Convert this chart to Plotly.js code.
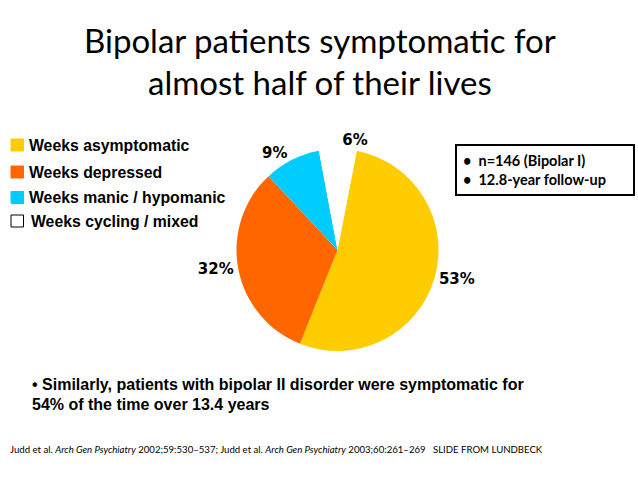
<!DOCTYPE html>
<html>
<head>
<meta charset="utf-8">
<script src="https://cdn.plot.ly/plotly-3.0.1.min.js"></script>
<style>html,body{margin:0;padding:0;background:#fff;}#chart{width:638px;height:479px;}</style>
</head>
<body>
<div id="chart"></div>
<script>
const categories = ["Weeks asymptomatic", "Weeks depressed", "Weeks manic / hypomanic", "Weeks cycling / mixed"];
const values = [53, 32, 9, 6];
const colors = ["#FFCC00", "#FF6600", "#00CCFF", "#FFFFFF"];
const legendBorders = ["#FFCC00", "#FF6600", "#00CCFF", "#000000"];
const titleLines = ["Bipolar patients symptomatic for", "almost half of their lives"];
const boxLines = ["n=146 (Bipolar I)", "12.8-year follow-up"];
const noteLines = ["• Similarly, patients with bipolar II disorder were symptomatic for", "54% of the time over 13.4 years"];
const footer = "Judd et al. <i>Arch Gen Psychiatry</i> 2002;59:530–537; Judd et al. <i>Arch Gen Psychiatry</i> 2003;60:261–269   SLIDE FROM LUNDBECK";

const W = 638, H = 479;
const px = x => x / W, py = y => 1 - y / H;

const cx = 337.5, cy = 250, r = 101;

const trace = {
  type: "pie",
  values: values,
  labels: categories,
  sort: false,
  direction: "clockwise",
  rotation: 11,
  marker: {colors: colors, line: {width: 0}},
  texttemplate: "%{value}%",
  textposition: "outside",
  textfont: {family: "DejaVu Sans", size: 15, color: "#000", weight: "bold"},
  showlegend: false,
  hoverinfo: "none",
  automargin: false,
  domain: {x: [px(cx - r), px(cx + r)], y: [py(cy + r), py(cy - r)]}
};

const shapes = [];
const annotations = [];

// title
titleLines.forEach((t, i) => {
  annotations.push({text: t, x: px(319.5), y: py(40 + i * 42), xref: "paper", yref: "paper",
    xanchor: "center", yanchor: "middle", showarrow: false,
    font: {family: "Lato", size: 33, color: "#000"}});
});

// legend
const legY = [145, 172, 197.5, 221];
categories.forEach((c, i) => {
  shapes.push({type: "rect", xref: "paper", yref: "paper",
    x0: px(11), x1: px(23.5), y0: py(legY[i] - 6), y1: py(legY[i] + 6),
    fillcolor: colors[i], line: {color: legendBorders[i], width: 1}});
  annotations.push({text: "<b>" + c + "</b>", x: px(i === 3 ? 29 : 27), y: py(legY[i]), xref: "paper", yref: "paper",
    xanchor: "left", yanchor: "middle", showarrow: false,
    font: {family: "Liberation Sans", size: 15.8, color: "#000"}});
});

// info box
shapes.push({type: "rect", xref: "paper", yref: "paper",
  x0: px(456), x1: px(634), y0: py(195), y1: py(145),
  fillcolor: "rgba(0,0,0,0)", line: {color: "#000", width: 2}});
boxLines.forEach((t, i) => {
  annotations.push({text: "<b>•  " + t + "</b>", x: px(461), y: py(160 + i * 19.5), xref: "paper", yref: "paper",
    xanchor: "left", yanchor: "middle", showarrow: false,
    font: {family: "Lato", size: 14.5, color: "#000"}});
});

// note
noteLines.forEach((t, i) => {
  annotations.push({text: "<b>" + t + "</b>", x: px(30), y: py(384 + i * 20), xref: "paper", yref: "paper",
    xanchor: "left", yanchor: "middle", showarrow: false,
    font: {family: "Liberation Sans", size: 16, color: "#000"}});
});

// footer
annotations.push({text: footer, x: px(8), y: py(449), xref: "paper", yref: "paper",
  xanchor: "left", yanchor: "middle", showarrow: false,
  font: {family: "Lato", size: 9.6, color: "#000"}});

const layout = {
  width: W, height: H,
  margin: {l: 0, r: 0, t: 0, b: 0},
  paper_bgcolor: "#fff",
  showlegend: false,
  shapes: shapes,
  annotations: annotations
};

Plotly.newPlot("chart", [trace], layout, {displayModeBar: false, staticPlot: true});
</script>
</body>
</html>
